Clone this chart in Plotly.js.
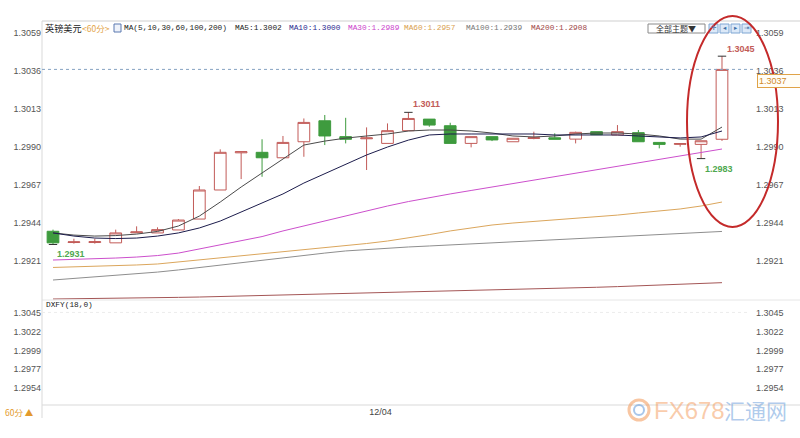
<!DOCTYPE html>
<html>
<head>
<meta charset="utf-8">
<script src="https://cdn.plot.ly/plotly-3.0.1.min.js"></script>
<style>
  html, body { margin: 0; padding: 0; background: #ffffff; }
  #chart { width: 800px; height: 438px; }
</style>
</head>
<body>
<div id="chart"></div>
<script>
// GBP/USD, 60-minute candles
const times = [
  '12/03 08:00', '12/03 09:00', '12/03 10:00', '12/03 11:00', '12/03 12:00', '12/03 13:00',
  '12/03 14:00', '12/03 15:00', '12/03 16:00', '12/03 17:00', '12/03 18:00', '12/03 19:00',
  '12/03 20:00', '12/03 21:00', '12/03 22:00', '12/03 23:00', '12/04 00:00', '12/04 01:00',
  '12/04 02:00', '12/04 03:00', '12/04 04:00', '12/04 05:00', '12/04 06:00', '12/04 07:00',
  '12/04 08:00', '12/04 09:00', '12/04 10:00', '12/04 11:00', '12/04 12:00', '12/04 13:00',
  '12/04 14:00', '12/04 15:00', '12/04 16:00'
];

const open = [1.2939, 1.29322, 1.29322, 1.2932, 1.29381, 1.2938, 1.29398, 1.29464, 1.2964, 1.29865,
  1.29868, 1.29835, 1.29932, 1.30059, 1.29963, 1.29950, 1.29922, 1.29999, 1.30069, 1.30029,
  1.29922, 1.29963, 1.29932, 1.29952, 1.29956, 1.29948, 1.29993, 1.29973, 1.29987, 1.29928,
  1.29916, 1.29916, 1.29947];
const high = [1.2940, 1.29345, 1.29345, 1.2940, 1.2942, 1.29414, 1.29464, 1.29664, 1.29886, 1.29872,
  1.29947, 1.29967, 1.30073, 1.30094, 1.30077, 1.30019, 1.30043, 1.3011, 1.30069, 1.30047,
  1.29963, 1.29963, 1.29953, 1.29993, 1.29983, 1.29993, 1.29993, 1.30033, 1.30003, 1.29928,
  1.29922, 1.29938, 1.3045];
const low = [1.2931, 1.29315, 1.29315, 1.2932, 1.29381, 1.2938, 1.29398, 1.29464, 1.2964, 1.29706,
  1.2972, 1.29835, 1.29841, 1.29912, 1.29922, 1.29761, 1.29922, 1.29999, 1.30023, 1.29922,
  1.29898, 1.29936, 1.29932, 1.29947, 1.29947, 1.29922, 1.29973, 1.29973, 1.29932, 1.29892,
  1.29902, 1.2983, 1.29937];
const close = [1.2932, 1.29326, 1.29327, 1.2938, 1.29386, 1.2940, 1.29458, 1.2964, 1.29868, 1.29872,
  1.29835, 1.29928, 1.30049, 1.29967, 1.29947, 1.29955, 1.29999, 1.30073, 1.30033, 1.29922,
  1.29963, 1.29943, 1.29953, 1.29956, 1.29947, 1.29989, 1.29975, 1.29993, 1.29932, 1.29916,
  1.29921, 1.29938, 1.3037];

// moving averages
const ma5 = [1.29380, 1.29367, 1.29361, 1.29364, 1.29373, 1.29389, 1.29422, 1.29482, 1.29567, 1.29658,
  1.29743, 1.29827, 1.29912, 1.29936, 1.29954, 1.29967, 1.29979, 1.29997, 1.30003, 1.30003,
  1.29997, 1.29985, 1.29967, 1.29961, 1.29967, 1.29979, 1.29985, 1.29985, 1.29979, 1.29967,
  1.29948, 1.29948, 1.30021];
const ma10 = [1.29380, 1.29361, 1.29349, 1.29346, 1.29349, 1.29361, 1.29380, 1.29410, 1.29452, 1.29507,
  1.29561, 1.29616, 1.29682, 1.29737, 1.29797, 1.29852, 1.29900, 1.29942, 1.29973, 1.29979,
  1.29979, 1.29979, 1.29979, 1.29979, 1.29973, 1.29973, 1.29973, 1.29973, 1.29967, 1.29961,
  1.29955, 1.29961, 1.29997];
const ma30 = [1.29216, 1.29219, 1.29222, 1.29228, 1.29234, 1.29243, 1.29258, 1.29283, 1.29307, 1.29331,
  1.29358, 1.29392, 1.29422, 1.29452, 1.29485, 1.29513, 1.29543, 1.29570, 1.29594, 1.29616,
  1.29637, 1.29658, 1.29679, 1.29700, 1.29721, 1.29743, 1.29761, 1.29782, 1.29803, 1.29824,
  1.29846, 1.29867, 1.29888];
const ma60 = [1.29171, 1.29174, 1.29177, 1.29180, 1.29186, 1.29192, 1.29204, 1.29216, 1.29228, 1.29240,
  1.29252, 1.29265, 1.29277, 1.29289, 1.29301, 1.29316, 1.29331, 1.29349, 1.29370, 1.29392,
  1.29410, 1.29428, 1.29440, 1.29449, 1.29458, 1.29467, 1.29476, 1.29488, 1.29501, 1.29513,
  1.29525, 1.29543, 1.29567];
const ma100 = [1.29095, 1.29104, 1.29113, 1.29122, 1.29131, 1.29143, 1.29156, 1.29171, 1.29186, 1.29201,
  1.29216, 1.29231, 1.29246, 1.29258, 1.29271, 1.29280, 1.29289, 1.29295, 1.29301, 1.29307,
  1.29313, 1.29319, 1.29325, 1.29331, 1.29337, 1.29343, 1.29349, 1.29355, 1.29361, 1.29367,
  1.29373, 1.29380, 1.29389];
const ma200 = [1.28980, 1.28981, 1.28983, 1.28984, 1.28986, 1.28988, 1.28990, 1.28992, 1.28995, 1.28997,
  1.28999, 1.29002, 1.29005, 1.29009, 1.29012, 1.29015, 1.29018, 1.29021, 1.29024, 1.29027,
  1.29030, 1.29033, 1.29036, 1.29039, 1.29043, 1.29047, 1.29051, 1.29055, 1.29059, 1.29064,
  1.29068, 1.29072, 1.29079];

const priceTicks = [1.2921, 1.2944, 1.2967, 1.2990, 1.3013, 1.3036, 1.3059];
const dxfyTicks = [1.2954, 1.2977, 1.2999, 1.3022, 1.3045];
const dayTicks = ['12/04 00:00'];
const dayLabels = ['12/04'];

const maNames = ['MA5', 'MA10', 'MA30', 'MA60', 'MA100', 'MA200'];
const maSeries = [ma5, ma10, ma30, ma60, ma100, ma200];
const maColors = ['#4a4a4a', '#1c1c4c', '#cc4fcc', '#dba65c', '#8e8e8e', '#a45656'];
const maTextColors = ['#222222', '#2b2b8f', '#cc44cc', '#d9a050', '#777777', '#a04848'];

const last = close.length - 1;
const hiIdx = 17, loIdx0 = 0, loIdx1 = 31;

const sansFont = 'Liberation Sans, Arial, sans-serif';
const monoFont = 'Liberation Mono, DejaVu Sans Mono, monospace';
const cjkFont = 'Noto Sans CJK SC, sans-serif';

// pixel helpers for paper-positioned decorations (plot area 42..750 x 21..405)
const px = v => (v - 42) / 708;
const py = v => (405 - v) / 384;

const traces = [];

traces.push({
  type: 'candlestick', x: times, open: open, high: high, low: low, close: close,
  xaxis: 'x', yaxis: 'y',
  increasing: { line: { color: '#c25b58', width: 1 }, fillcolor: '#ffffff' },
  decreasing: { line: { color: '#3e9b3e', width: 1 }, fillcolor: '#3e9b3e' },
  whiskerwidth: 0, showlegend: false, hoverinfo: 'skip'
});

maSeries.forEach((s, k) => {
  traces.push({
    type: 'scatter', mode: 'lines', x: times, y: s, name: maNames[k],
    xaxis: 'x', yaxis: 'y', line: { color: maColors[k], width: 1 },
    showlegend: false, hoverinfo: 'skip'
  });
});

// small ticks at the marked extremes
traces.push({
  type: 'scatter', mode: 'markers',
  x: [times[last], times[hiIdx], times[loIdx0], times[loIdx1]],
  y: [high[last], high[hiIdx], low[loIdx0], low[loIdx1]],
  xaxis: 'x', yaxis: 'y',
  marker: { symbol: 'line-ew', size: 6, line: { color: '#333333', width: 1 } },
  showlegend: false, hoverinfo: 'skip'
});

// DXFY panel (no data) and right-hand mirror axes
traces.push({ type: 'scatter', x: [], y: [], xaxis: 'x', yaxis: 'y3', name: 'DXFY', showlegend: false });
traces.push({ type: 'scatter', x: [], y: [], xaxis: 'x', yaxis: 'y2', showlegend: false });
traces.push({ type: 'scatter', x: [], y: [], xaxis: 'x', yaxis: 'y4', showlegend: false });

const tickFont = { family: sansFont, size: 9, color: '#555555' };
const mainRange = [1.28974, 1.30663];
const dxfyRange = [1.29338, 1.30599];

const axisBase = {
  showgrid: false, zeroline: false, showline: false, ticks: '',
  tickformat: '.4f', tickfont: tickFont, fixedrange: true
};

const annotations = [];

// header line
const headFont = 7.8;
annotations.push({ xref: 'paper', yref: 'paper', x: px(43), y: py(28), xanchor: 'left', yanchor: 'middle',
  text: '英镑美元', showarrow: false, font: { family: cjkFont, size: 9.2, color: '#222222' } });
annotations.push({ xref: 'paper', yref: 'paper', x: px(80), y: py(28), xanchor: 'left', yanchor: 'middle',
  text: '&lt;60分&gt;', showarrow: false, font: { family: cjkFont, size: 8.5, color: '#e3a447' } });
annotations.push({ xref: 'paper', yref: 'paper', x: px(122), y: py(28), xanchor: 'left', yanchor: 'middle',
  text: 'MA(5,10,30,60,100,200)', showarrow: false, font: { family: monoFont, size: headFont, color: '#222222' } });
const headerX = [233, 287, 346, 402, 464, 529];
maSeries.forEach((s, k) => {
  annotations.push({ xref: 'paper', yref: 'paper', x: px(headerX[k]), y: py(28), xanchor: 'left', yanchor: 'middle',
    text: maNames[k] + ':' + s[s.length - 1].toFixed(4), showarrow: false,
    font: { family: monoFont, size: headFont, color: maTextColors[k] } });
});

// toolbar
annotations.push({ xref: 'paper', yref: 'paper', x: px(676), y: py(28.5), xanchor: 'center', yanchor: 'middle',
  text: '全部主题▼', showarrow: false, font: { family: cjkFont, size: 8, color: '#333333' } });
const btnGlyphs = ['✛', '◂', '▸', '⇥'];
const btnX = [709, 720, 731, 742];
btnGlyphs.forEach((g, k) => {
  annotations.push({ xref: 'paper', yref: 'paper', x: px(btnX[k] + 4.5), y: py(28), xanchor: 'center', yanchor: 'middle',
    text: g, showarrow: false, font: { family: 'DejaVu Sans, sans-serif', size: 6.5, color: '#3a6ea5' } });
});

// extreme value labels
annotations.push({ x: times[last], y: high[last], xref: 'x', yref: 'y', xanchor: 'left', yanchor: 'bottom',
  xshift: 3, yshift: 0, text: '<b>' + high[last].toFixed(4) + '</b>', showarrow: false,
  font: { family: sansFont, size: 9, color: '#c25b58' } });
annotations.push({ x: times[hiIdx], y: high[hiIdx], xref: 'x', yref: 'y', xanchor: 'left', yanchor: 'bottom',
  xshift: 3, yshift: 1, text: '<b>' + high[hiIdx].toFixed(4) + '</b>', showarrow: false,
  font: { family: sansFont, size: 9, color: '#c25b58' } });
annotations.push({ x: times[loIdx1], y: low[loIdx1], xref: 'x', yref: 'y', xanchor: 'left', yanchor: 'top',
  xshift: 2, yshift: -3, text: '<b>' + low[loIdx1].toFixed(4) + '</b>', showarrow: false,
  font: { family: sansFont, size: 9, color: '#4fa84f' } });
annotations.push({ x: times[loIdx0], y: low[loIdx0], xref: 'x', yref: 'y', xanchor: 'left', yanchor: 'top',
  xshift: 2, yshift: -2, text: '<b>' + low[loIdx0].toFixed(4) + '</b>', showarrow: false,
  font: { family: sansFont, size: 9, color: '#4fa84f' } });

// last price tag, just under the axis label of the same level
annotations.push({ xref: 'paper', yref: 'y', x: px(757), y: close[last], xanchor: 'left', yanchor: 'top',
  yshift: -5, text: close[last].toFixed(4), showarrow: false, align: 'left',
  font: { family: sansFont, size: 9, color: '#d08a2a' },
  bordercolor: '#e0a347', borderwidth: 1, borderpad: 1, bgcolor: '#fffdf6', width: 40 });

// lower panel title and period label
annotations.push({ xref: 'paper', yref: 'paper', x: px(44), y: py(305), xanchor: 'left', yanchor: 'middle',
  text: 'DXFY(18,0)', showarrow: false, font: { family: monoFont, size: headFont, color: '#222222' } });
annotations.push({ xref: 'paper', yref: 'paper', x: px(3), y: py(412), xanchor: 'left', yanchor: 'middle',
  text: '60分 ▲', showarrow: false, font: { family: cjkFont, size: 8.5, color: '#e39a2c' } });

// watermark
annotations.push({ xref: 'paper', yref: 'paper', x: px(652), y: py(410), xanchor: 'left', yanchor: 'middle',
  text: 'FX678', showarrow: false, font: { family: sansFont, size: 24, color: 'rgba(244,160,100,0.55)' } });
annotations.push({ xref: 'paper', yref: 'paper', x: px(722), y: py(410), xanchor: 'left', yanchor: 'middle',
  text: '汇通网', showarrow: false, font: { family: cjkFont, size: 21, color: 'rgba(110,160,220,0.55)' } });

const gridGray = '#d9d9d9';
const shapes = [
  // frame
  { type: 'line', xref: 'paper', yref: 'paper', x0: 0, x1: px(800), y0: 1, y1: 1, line: { color: '#cfcfcf', width: 1 } },
  { type: 'line', xref: 'paper', yref: 'paper', x0: 0, x1: px(800), y0: py(300), y1: py(300), line: { color: '#e6e6e6', width: 1 } },
  { type: 'line', xref: 'paper', yref: 'paper', x0: 0, x1: px(800), y0: 0, y1: 0, line: { color: gridGray, width: 1 } },
  { type: 'line', xref: 'paper', yref: 'paper', x0: 0, x1: 0, y0: py(418), y1: 1, line: { color: gridGray, width: 1 } },
  // DXFY level guide
  { type: 'line', xref: 'paper', yref: 'y3', x0: 0, x1: 1, y0: dxfyTicks[4], y1: dxfyTicks[4], line: { color: '#ececec', width: 1, dash: 'dot' } },
  // last price guide
  { type: 'line', xref: 'paper', yref: 'y', x0: 0, x1: px(753), y0: close[last], y1: close[last], line: { color: '#86a3c2', width: 1, dash: 'dot' } },
  // header icon
  { type: 'rect', xref: 'paper', yref: 'paper', x0: px(114), x1: px(121), y0: py(32), y1: py(24), line: { color: '#5a78b0', width: 1 }, fillcolor: '#eef2fa' },
  // toolbar
  { type: 'rect', xref: 'paper', yref: 'paper', x0: px(648), x1: px(705), y0: py(33), y1: py(24), line: { color: '#8a8a8a', width: 1 }, fillcolor: '#ffffff' }
];
btnX.forEach(bx => {
  shapes.push({ type: 'rect', xref: 'paper', yref: 'paper', x0: px(bx), x1: px(bx + 9), y0: py(33), y1: py(24),
    line: { color: '#7ea6d3', width: 1 }, fillcolor: '#dce9f8' });
});
// watermark emblem
shapes.push({ type: 'circle', xref: 'paper', yref: 'paper', x0: px(629), x1: px(649), y0: py(420), y1: py(400),
  line: { color: 'rgba(244,160,100,0.6)', width: 3 } });
shapes.push({ type: 'circle', xref: 'paper', yref: 'paper', x0: px(634), x1: px(644), y0: py(415), y1: py(405),
  line: { color: 'rgba(110,160,220,0.6)', width: 2 } });
// highlight ring around the breakout
shapes.push({ type: 'circle', xref: 'paper', yref: 'paper', x0: px(687), x1: px(778), y0: py(227), y1: py(16),
  line: { color: '#c42a2a', width: 2 } });

const layout = {
  width: 800, height: 438,
  margin: { l: 42, r: 50, t: 21, b: 33, pad: 0 },
  paper_bgcolor: '#ffffff', plot_bgcolor: '#ffffff',
  showlegend: false,
  boxgap: 0.2,
  xaxis: {
    type: 'category', range: [-0.526, 33.34], anchor: 'y3',
    showgrid: false, zeroline: false, showline: false, ticks: '',
    tickvals: dayTicks, ticktext: dayLabels, ticklabelshift: -7,
    tickfont: { family: sansFont, size: 9, color: '#444444' },
    rangeslider: { visible: false }, fixedrange: true
  },
  yaxis: Object.assign({}, axisBase, { domain: [py(300), 1], range: mainRange, tickvals: priceTicks, side: 'left', anchor: 'x' }),
  yaxis2: Object.assign({}, axisBase, { overlaying: 'y', range: mainRange, tickvals: priceTicks, side: 'right', anchor: 'x', ticklabelstandoff: 5 }),
  yaxis3: Object.assign({}, axisBase, { domain: [0, py(300)], range: dxfyRange, tickvals: dxfyTicks, side: 'left', anchor: 'x' }),
  yaxis4: Object.assign({}, axisBase, { overlaying: 'y3', range: dxfyRange, tickvals: dxfyTicks, side: 'right', anchor: 'x', ticklabelstandoff: 5 }),
  annotations: annotations,
  shapes: shapes
};

Plotly.newPlot('chart', traces, layout, { staticPlot: true, displayModeBar: false });
</script>
</body>
</html>
